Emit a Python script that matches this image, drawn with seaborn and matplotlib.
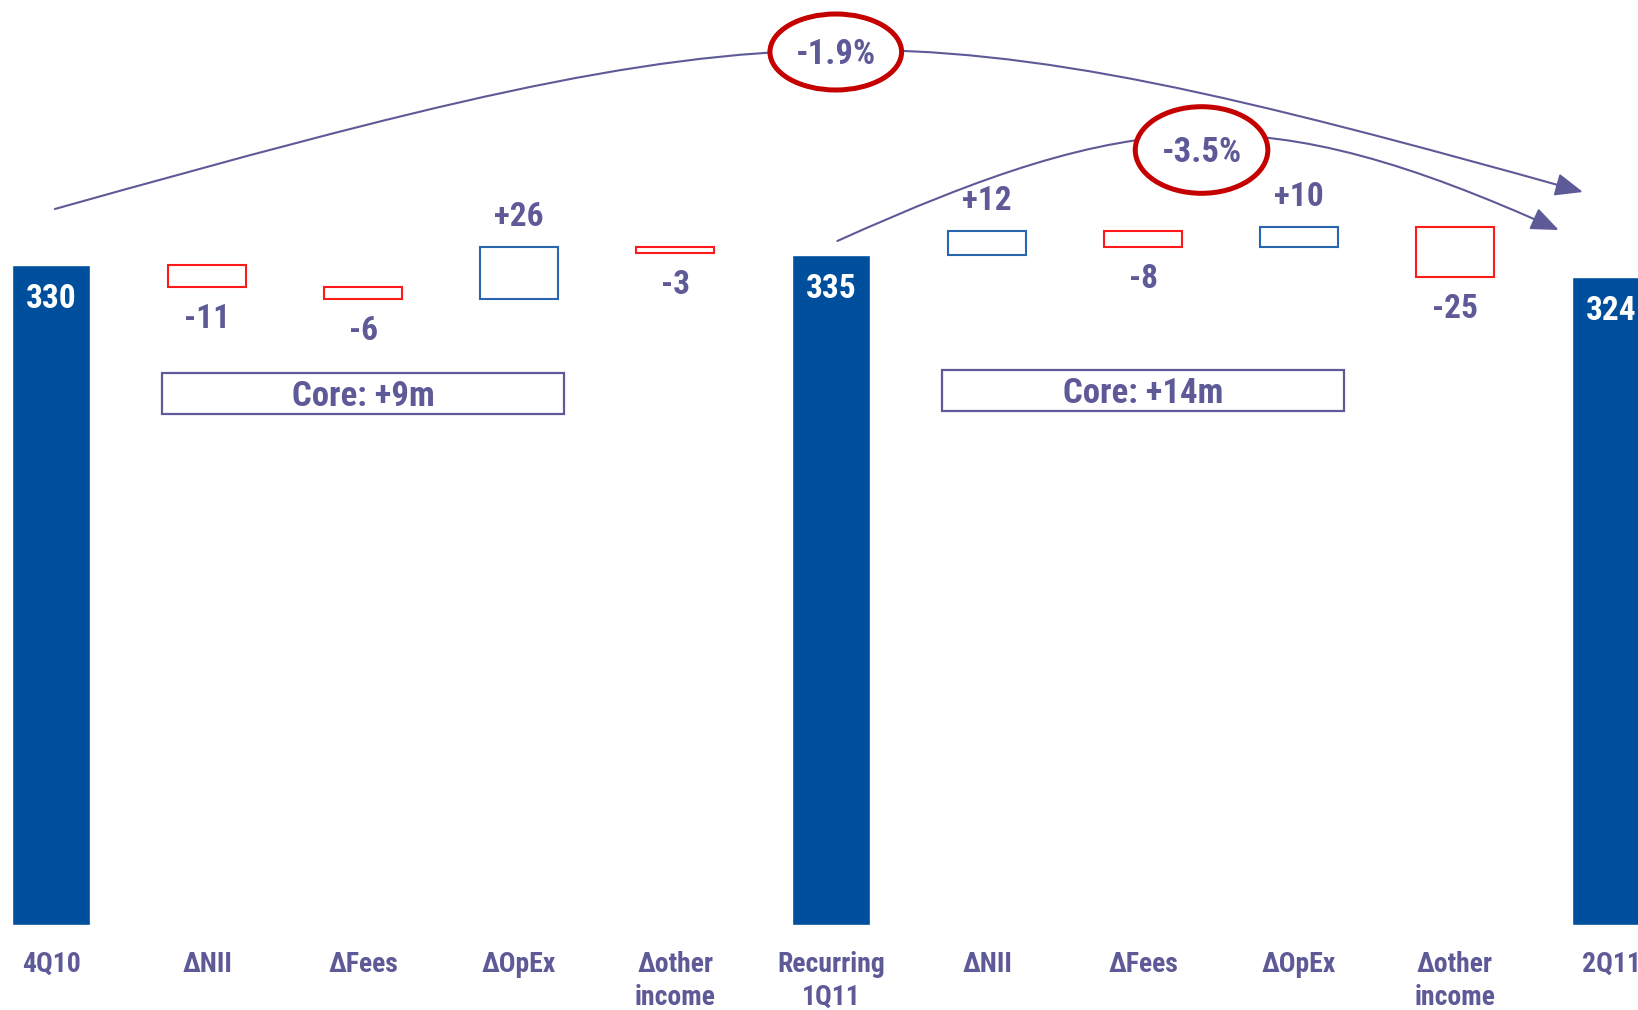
import numpy as np
import pandas as pd
import seaborn as sns
import matplotlib.pyplot as plt
from matplotlib.patches import Ellipse, FancyArrowPatch, Rectangle
from matplotlib.path import Path

# Chart data
labels = ['4Q10', 'ΔNII', 'ΔFees', 'ΔOpEx', 'Δother\nincome', 'Recurring\n1Q11',
          'ΔNII', 'ΔFees', 'ΔOpEx', 'Δother\nincome', '2Q11']
values = [330, -11, -6, 26, -3, 335, 12, -8, 10, -25, 324]
is_total = [True, False, False, False, False, True, False, False, False, False, True]
core_groups = [[1, 2, 3], [6, 7, 8]]
pct_labels = ['-1.9%', '-3.5%']

navy = '#004F9C'
purple = '#5E5A98'
red = '#FF1A1A'
blue = '#2A66B0'
dark_red = '#C40000'

sns.set_style('white')
plt.rcParams['font.family'] = ['Roboto Condensed', 'Liberation Sans', 'DejaVu Sans']
plt.rcParams['font.weight'] = 'bold'

# Running level for the floating boxes
bottoms, heights = [], []
level = 0
for v, t in zip(values, is_total):
    if t:
        bottoms.append(0)
        heights.append(v)
        level = v
    else:
        bottoms.append(level if v > 0 else level + v)
        heights.append(abs(v))
        level += v

df = pd.DataFrame({'key': [str(i) for i in range(len(values))],
                   'total': [v if t else 0 for v, t in zip(values, is_total)]})

fig = plt.figure(figsize=(16.38, 10.10), dpi=100)
ax = fig.add_axes([0, 0, 1, 1])
sns.barplot(data=df, x='key', y='total', order=df['key'], color=navy,
            saturation=1, width=0.5, ax=ax)

# Floating delta boxes and value labels
for i, (v, t) in enumerate(zip(values, is_total)):
    if t:
        ax.text(i, v - 17, str(v), color='white', ha='center', va='center', fontsize=24)
        continue
    ax.bar(i, heights[i], bottom=bottoms[i], width=0.5, fill=False,
           edgecolor=red if v < 0 else blue, linewidth=1.5)
    if v > 0:
        ax.text(i, bottoms[i] + heights[i] + 15, f'+{v}', color=purple,
                ha='center', va='center', fontsize=24)
    else:
        ax.text(i, bottoms[i] - 16, f'{v}', color=purple,
                ha='center', va='center', fontsize=24)

# Category labels under the bars
for i, lab in enumerate(labels):
    ax.text(i, -13, lab, color=purple, ha='center', va='top', fontsize=20,
            linespacing=1.3)

# Core boxes
core_y = [265.5, 267.0]
for grp, cy in zip(core_groups, core_y):
    core = sum(values[i] for i in grp)
    x0, x1 = grp[0] - 0.29, grp[-1] + 0.29
    ax.add_patch(Rectangle((x0, cy - 10.25), x1 - x0, 20.5, fill=False,
                           edgecolor=purple, linewidth=1.6))
    ax.text((x0 + x1) / 2, cy - 1.5, f'Core: {core:+d}m', color=purple,
            ha='center', va='center', fontsize=25)


# Curved arrows with percentage bubbles
def arc(p0, c1, c2, p3):
    path = Path([p0, c1, c2, p3], [Path.MOVETO, Path.CURVE4, Path.CURVE4, Path.CURVE4])
    ax.add_patch(FancyArrowPatch(path=path, arrowstyle='-|>,head_length=0.85,head_width=0.35',
                                 color=purple, lw=1.5, mutation_scale=20, zorder=4))


arc((0.024, 357.75), (4.76, 461.25), (5.37, 463.4), (9.82, 366.25))
arc((5.04, 341.75), (6.95, 408.75), (7.755, 414.25), (9.665, 347.25))

bubbles = [(5.03, 436.25, 0.844, 38.0), (7.375, 387.25, 0.85, 43.3)]
for (bx, by, bw, bh), txt in zip(bubbles, pct_labels):
    ax.add_patch(Ellipse((bx, by), bw, bh, facecolor='white', edgecolor=dark_red,
                         linewidth=3.6, zorder=5))
    ax.text(bx, by - 1.5, txt, color=purple, ha='center', va='center', fontsize=25, zorder=6)

ax.set_xlim(-0.328, 10.173)
ax.set_ylim(-42.75, 462.25)
ax.axis('off')

plt.savefig('out.png', dpi=100)
